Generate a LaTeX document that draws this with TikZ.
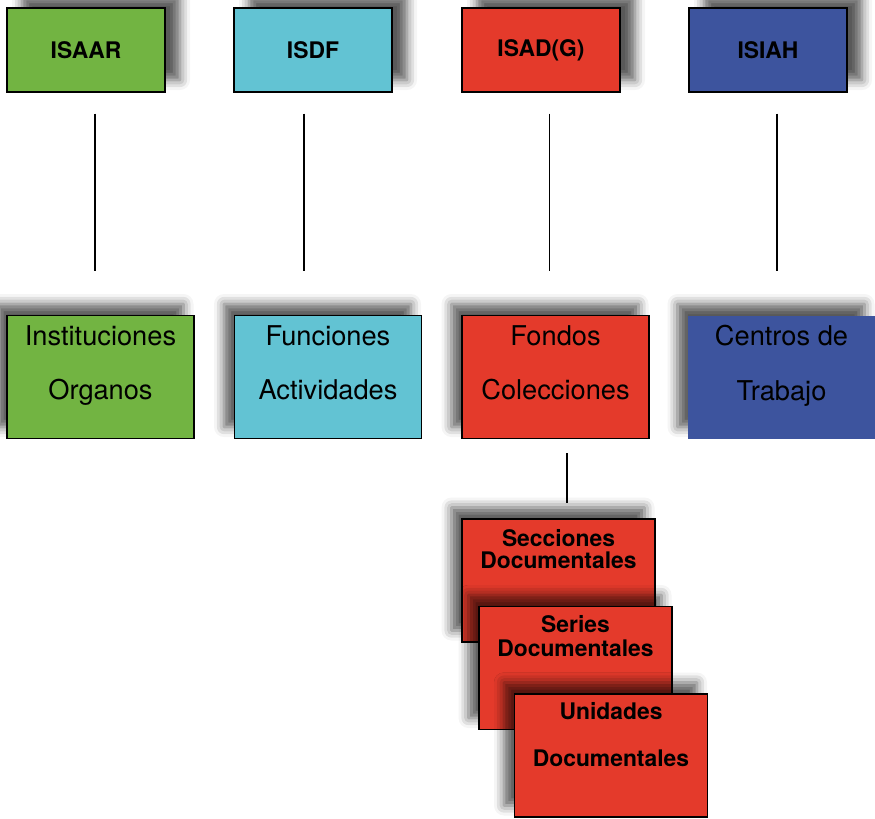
\documentclass[tikz,border=0pt]{standalone}
\usepackage{fontspec}
\setmainfont{TeX Gyre Heros}
\usetikzlibrary{shadows.blur}
\definecolor{isaargreen}{RGB}{114,180,66}
\definecolor{isdfcyan}{RGB}{98,195,211}
\definecolor{isadred}{RGB}{228,58,43}
\definecolor{isiahblue}{RGB}{61,84,158}
\tikzset{
  normbox/.style={draw=black, line width=0.6pt, inner sep=0pt,
    minimum width=3.16cm, minimum height=1.68cm,
    font=\bfseries\fontsize{13}{15}\selectfont},
  entitybox/.style={draw=black, line width=0.6pt, inner sep=0pt,
    minimum width=3.74cm, minimum height=2.46cm},
  entitytext/.style={anchor=north, inner sep=0pt, align=center,
    font=\fontsize{15.5}{31}\selectfont},
  docbox/.style={draw=black, line width=0.6pt, inner sep=0pt,
    minimum width=3.86cm, minimum height=2.46cm},
  doctext/.style={anchor=north, inner sep=0pt, align=center},
  shadowright/.style={blur shadow={shadow xshift=0.3cm, shadow yshift=0.24cm,
    shadow blur radius=0.2cm, shadow opacity=65}},
  shadowleft/.style={blur shadow={shadow xshift=-0.21cm, shadow yshift=0.23cm,
    shadow blur radius=0.2cm, shadow opacity=65}},
  link/.style={draw=black, line width=0.8pt}
}

\begin{document}
\begin{tikzpicture}
	\newcommand \toprow{-1.0}
	\newcommand \midrow{-7.54}
	\useasboundingbox (0,0) rectangle (17.5,-16.36);

%% standards
	\node[normbox, shadowright, fill=isaargreen] (isaar) at (1.72,\toprow) {ISAAR};
	\node[normbox, shadowright, fill=isdfcyan] (isdf) at (6.26,\toprow) {ISDF};
	\node[normbox, shadowright, fill=isadred] (isad) at (10.82,\toprow) {ISAD(G)};
	\node[normbox, shadowright, fill=isiahblue] (isiah) at (15.36,\toprow) {ISIAH};

%% entities
	\node[entitybox, shadowleft, fill=isaargreen] (inst) at (2.01,\midrow) {};
	\node[entitytext] (insttext) at ([yshift=-0.2cm]inst.north) {Instituciones\\Organos};
	\node[entitybox, shadowleft, fill=isdfcyan] (func) at (6.56,\midrow) {};
	\node[entitytext] (functext) at ([yshift=-0.2cm]func.north) {Funciones\\Actividades};
	\node[entitybox, shadowleft, fill=isadred] (fondos) at (11.11,\midrow) {};
	\node[entitytext] (fondostext) at ([yshift=-0.2cm]fondos.north) {Fondos\\Colecciones};
	\node[entitybox, shadowleft, fill=isiahblue, draw=none] (centros) at (15.63,\midrow) {};
	\node[entitytext] (centrostext) at ([yshift=-0.2cm]centros.north) {Centros de\\Trabajo};

\foreach \up/\down/\dx in {isaar/inst/0.18, isdf/func/-0.18, isad/fondos/0.17, isiah/centros/0.18}
{
\draw[link, shorten <=0.42cm, shorten >=0.88cm] ([xshift=\dx cm]\up.south) -- ([xshift=\dx cm]\up.south |- \down.north);
}

%% documents of the fondo
	\node[docbox, shadowleft, fill=isadred] (secc) at (11.17,-11.61) {};
	\node[doctext, font=\bfseries\fontsize{13}{12.5}\selectfont] (secctext) at ([yshift=-0.22cm]secc.north) {Secciones\\Documentales};
	\node[docbox, shadowleft, fill=isadred] (series) at (11.51,-13.36) {};
	\node[doctext, font=\bfseries\fontsize{13}{13.6}\selectfont] (seriestext) at ([yshift=-0.18cm]series.north) {Series\\Documentales};
	\node[docbox, shadowleft, fill=isadred] (unid) at (12.22,-15.11) {};
	\node[doctext, font=\bfseries\fontsize{13}{26.7}\selectfont] (unidtext) at ([yshift=-0.18cm]unid.north) {Unidades\\Documentales};

	\draw[link, shorten <=0.28cm, shorten >=0.3cm] ([xshift=0.23cm]fondos.south) -- ([xshift=0.23cm]fondos.south |- secc.north);

\end{tikzpicture}
\end{document}
